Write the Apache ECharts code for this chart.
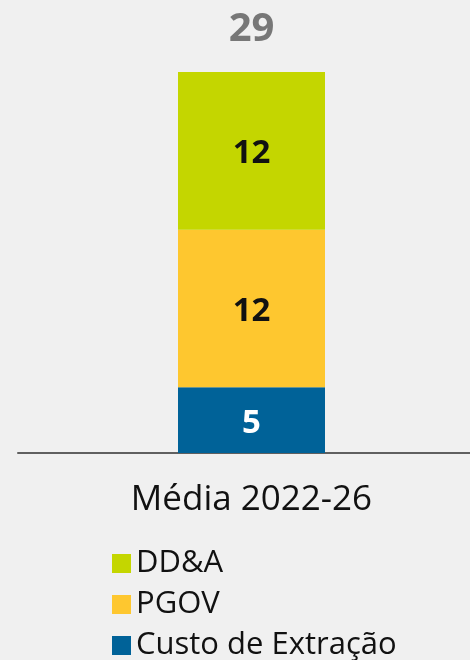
<!DOCTYPE html>
<html>
<head>
<meta charset="utf-8">
<script src="https://cdn.jsdelivr.net/npm/echarts@6/dist/echarts.min.js"></script>
<style>
    html, body { margin: 0; padding: 0; background: #f0f0f0; }
    #chart { width: 470px; height: 660px; }
</style>
</head>
<body>
<div id="chart"></div>
<script>
// Data
const categories = ['Média 2022-26'];
const seriesNames = ['Custo de Extração', 'PGOV', 'DD&A'];
const extracao = [5];
const pgov = [12];
const dda = [12];
const legendOrder = ['DD&A', 'PGOV', 'Custo de Extração'];

const totals = categories.map((c, i) => extracao[i] + pgov[i] + dda[i]);

const colors = {
    'Custo de Extração': '#006298',
    'PGOV': '#fec72f',
    'DD&A': '#c4d600'
};
const labelColors = {
    'Custo de Extração': '#ffffff',
    'PGOV': '#111111',
    'DD&A': '#111111'
};
const values = {
    'Custo de Extração': extracao,
    'PGOV': pgov,
    'DD&A': dda
};

const fontFamily = '"Open Sans", sans-serif';

document.addEventListener('DOMContentLoaded', function() {
    const chart = echarts.init(document.getElementById('chart'));

    const barSeries = seriesNames.map(function(name) {
        return {
            name: name,
            type: 'bar',
            stack: 'total',
            barWidth: 147,
            data: values[name],
            itemStyle: { color: colors[name] },
            label: {
                show: true,
                position: 'inside',
                offset: [0, 3],
                color: labelColors[name],
                fontSize: 33,
                fontWeight: 'bold',
                fontFamily: fontFamily
            }
        };
    });

    const option = {
        animation: false,
        backgroundColor: '#f0f0f0',
        // main grid holds the bar; second grid only draws the baseline
        grid: [
            { left: 33, right: 0, top: 72, bottom: 207 },
            { left: 18, right: 0, top: 72, bottom: 207 }
        ],
        xAxis: [
            {
                type: 'category',
                gridIndex: 0,
                data: categories,
                axisLine: { show: false },
                axisTick: { show: false },
                axisLabel: {
                    color: '#111111',
                    fontSize: 35,
                    fontFamily: fontFamily,
                    margin: 30
                }
            },
            {
                type: 'category',
                gridIndex: 1,
                data: categories,
                axisLine: { lineStyle: { color: '#606060', width: 2 } },
                axisTick: { show: false },
                axisLabel: { show: false }
            }
        ],
        yAxis: [
            { type: 'value', gridIndex: 0, min: 0, max: 29, show: false },
            { type: 'value', gridIndex: 1, min: 0, max: 29, show: false }
        ],
        legend: {
            data: legendOrder,
            orient: 'vertical',
            left: 112,
            top: 548,
            height: 200,
            padding: 0,
            itemWidth: 19,
            itemHeight: 19,
            itemGap: 10,
            icon: 'rect',
            textStyle: {
                color: '#111111',
                fontSize: 31,
                lineHeight: 28,
                fontFamily: fontFamily,
                padding: [0, 0, 0, 0]
            }
        },
        series: barSeries.concat([{
            name: 'Total',
            type: 'scatter',
            data: totals,
            symbolSize: 0,
            silent: true,
            label: {
                show: true,
                position: 'top',
                distance: 22,
                color: '#595959',
                fontSize: 40,
                fontWeight: 'bold',
                fontFamily: fontFamily
            }
        }])
    };
    chart.setOption(option);
});
</script>
</body>
</html>
